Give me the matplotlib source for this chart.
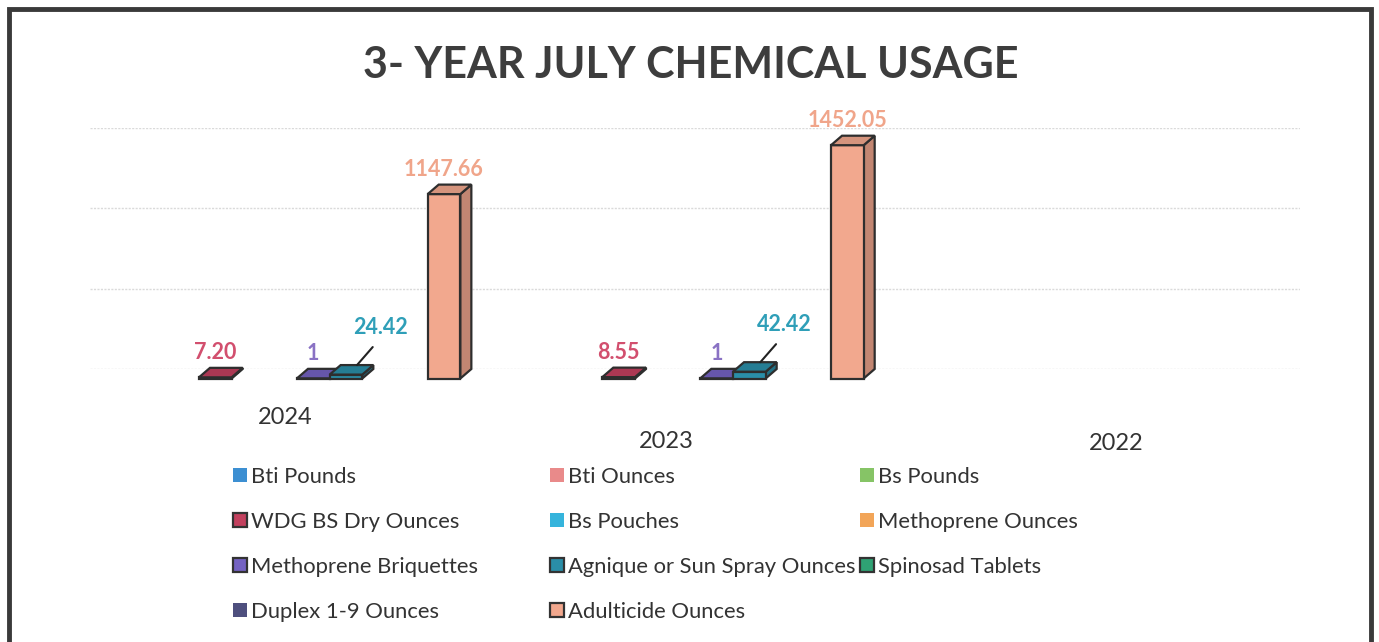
import numpy as np
import matplotlib
matplotlib.use("Agg")
import matplotlib.pyplot as plt
from matplotlib.patches import Polygon, Rectangle
from matplotlib.transforms import ScaledTranslation

plt.rcParams['font.family'] = ['Lato', 'DejaVu Sans']

years = ["2024", "2023", "2022"]
series = ["Bti Pounds", "Bti Ounces", "Bs Pounds",
          "WDG BS Dry Ounces", "Bs Pouches", "Methoprene Ounces",
          "Methoprene Briquettes", "Agnique or Sun Spray Ounces", "Spinosad Tablets",
          "Duplex 1-9 Ounces", "Adulticide Ounces"]
bti_pounds = [0, 0, 0]
bti_ounces = [0, 0, 0]
bs_pounds = [0, 0, 0]
wdg_bs_dry = [7.20, 8.55, 0]
bs_pouches = [0, 0, 0]
methoprene_oz = [0, 0, 0]
methoprene_briq = [1, 1, 0]
agnique = [24.42, 42.42, 0]
spinosad = [0, 0, 0]
duplex = [0, 0, 0]
adulticide = [1147.66, 1452.05, 0]
values = [bti_pounds, bti_ounces, bs_pounds, wdg_bs_dry, bs_pouches, methoprene_oz,
          methoprene_briq, agnique, spinosad, duplex, adulticide]

colors = ["#3c8fd2", "#e98a8a", "#86c466", "#c2405e", "#35b4dc", "#f2a558",
          "#7462c2", "#2a8ea8", "#2fa274", "#4e4f7e", "#f2a88e"]
label_colors = {3: "#d24f6e", 6: "#8a72c4", 7: "#2f9fb8", 10: "#f0a58a"}
edged = {3, 6, 7, 8, 10}


def shade(c, f):
    rgb = np.array(matplotlib.colors.to_rgb(c))
    return tuple(rgb * f)


fig = plt.figure(figsize=(13.79, 6.42), dpi=100)
W, H = 1379, 642
ax = fig.add_axes([90 / W, 1 - 369 / H, 1210 / W, 241 / H])
ax.set_xlim(-0.5, 2.5)
ax.set_ylim(0, 1500)
for s in ax.spines.values():
    s.set_visible(False)
ax.set_yticks([0, 500, 1000, 1500])
ax.set_yticklabels([])
ax.tick_params(axis='y', length=0)
ax.grid(axis='y', color="#dadada", linestyle=(0, (1.5, 1)), linewidth=1.0)
ax.set_axisbelow(True)

x = np.arange(len(years))
n = len(series)
bw = 0.081
dx = 11 / 403
dy = 9.5 / (241 / 1500)
ec = "#2e2e2e"

for i, (name, vals) in enumerate(zip(series, values)):
    for j, v in enumerate(vals):
        if v == 0:
            continue
        # back face sits on the gridline plane, front face is shifted left/down
        bx0 = x[j] + (i - (n - 1) / 2) * bw - bw / 2
        x0 = bx0 - dx
        x1 = x0 + bw
        c = colors[i]
        front = Polygon([(x0, -dy), (x1, -dy), (x1, v - dy), (x0, v - dy)], closed=True,
                        facecolor=c, edgecolor=ec, linewidth=1.6, zorder=3 + i, clip_on=False)
        top = Polygon([(x0, v - dy), (x1, v - dy), (x1 + dx, v), (x0 + dx, v)], closed=True,
                      facecolor=shade(c, 0.88), edgecolor=ec, linewidth=1.6, zorder=3 + i,
                      clip_on=False)
        side = Polygon([(x1, -dy), (x1 + dx, 0), (x1 + dx, v), (x1, v - dy)], closed=True,
                       facecolor=shade(c, 0.8), edgecolor=ec, linewidth=1.6, zorder=3 + i,
                       clip_on=False)
        for p in (side, front, top):
            ax.add_patch(p)
        txt = f"{v:.0f}" if float(v).is_integer() else f"{v:.2f}"
        fc = (x0 + x1) / 2
        if name.startswith("Agnique"):
            ax.annotate(txt, xy=(fc + dx, v), xytext=(17, 19.5), textcoords="offset points",
                        ha="center", va="bottom", fontsize=15.5, fontweight="bold",
                        color=label_colors[i], zorder=20, annotation_clip=False,
                        arrowprops=dict(arrowstyle="-", color="#222222", lw=1.5,
                                        relpos=(0.5, 0), shrinkA=6, shrinkB=0))
        else:
            ax.annotate(txt, xy=(fc, v), xytext=(0, 3.5), textcoords="offset points",
                        ha="center", va="bottom", fontsize=15.5, fontweight="bold",
                        color=label_colors[i], zorder=20, annotation_clip=False)

ax.set_xticks(x)
ax.set_xticklabels(years, fontsize=17, color="#333333")
ax.tick_params(axis='x', length=0, pad=27)
shifts = [(-6, 0), (-29, 25), (18, 26)]
for lab, (sx, sy) in zip(ax.get_xticklabels(), shifts):
    lab.set_transform(lab.get_transform() + ScaledTranslation(sx / 100, -sy / 100, fig.dpi_scale_trans))

fig.text(0.501, 1 - 65 / H, "3- YEAR JULY CHEMICAL USAGE", ha="center", va="center",
         fontsize=31, fontweight="bold", color="#3d3d3d")

# legend, three columns placed separately
col_x = [233, 550, 860]
for c in range(3):
    idx = list(range(c, n, 3))
    handles = []
    for k in idx:
        handles.append(Rectangle((0, 0), 1, 1, facecolor=colors[k],
                                 edgecolor="#333333" if k in edged else "none",
                                 linewidth=1.6 if k in edged else 0))
    leg = fig.legend(handles, [series[k] for k in idx], loc="upper left",
                     bbox_to_anchor=(col_x[c] / W, 1 - 467 / H), frameon=False,
                     fontsize=15.8, handlelength=0.62, handleheight=0.62, handletextpad=0.2,
                     labelspacing=1.14, borderpad=0, borderaxespad=0)
    for t in leg.get_texts():
        t.set_color("#333333")

fig.add_artist(Rectangle((9 / W, -0.05), 1362 / W, 1 - 9 / H + 0.05, transform=fig.transFigure,
                         fill=False, edgecolor="#3a3a3a", linewidth=3.5))

fig.savefig("out.png", dpi=100)
